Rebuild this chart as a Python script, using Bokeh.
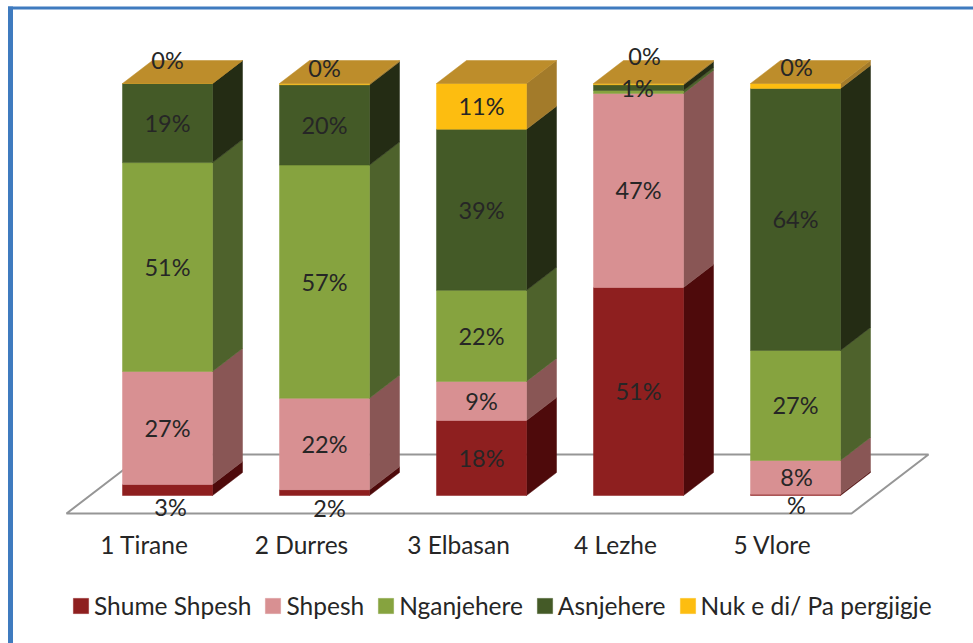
from bokeh.plotting import figure
from bokeh.models import (ColumnDataSource, Range1d, LinearAxis, FixedTicker, Legend, LegendItem,
                          BoxAnnotation)
from bokeh.core.properties import value
from bokeh.embed import file_html
from bokeh.resources import INLINE

categories = ["1 Tirane", "2 Durres", "3 Elbasan", "4 Lezhe", "5 Vlore"]
series_names = ["Shume Shpesh", "Shpesh", "Nganjehere", "Asnjehere", "Nuk e di/ Pa pergjigje"]
shume_shpesh = [2.7, 1.4, 18.2, 50.5, 0.3]
shpesh = [27.4, 22.2, 9.5, 47.1, 8.2]
nganjehere = [50.7, 56.6, 22.1, 0.7, 26.7]
asnjehere = [19.2, 19.5, 39.1, 1.4, 63.6]
nuk_e_di = [0.0, 0.3, 11.1, 0.3, 1.2]
series_values = [shume_shpesh, shpesh, nganjehere, asnjehere, nuk_e_di]

label_shume = ["3%", "2%", "18%", "51%", "%"]
label_shpesh = ["27%", "22%", "9%", "47%", "8%"]
label_ngan = ["51%", "57%", "22%", None, "27%"]
label_asn = ["19%", "20%", "39%", "1%", "64%"]
label_nuk = ["0%", "0%", "11%", "0%", "0%"]
series_labels = [label_shume, label_shpesh, label_ngan, label_asn, label_nuk]

front_colors = ["#8E1F1F", "#D89092", "#86A33F", "#445A27", "#FDBD10"]
side_colors = ["#4E0A0B", "#895655", "#4E622C", "#242C14", "#A37B2A"]
cap_color = "#BD8D2B"
text_color = "#262626"
font = value("Lato")

W, H = 973, 643
PX_X, PX_Y = 157.0, 4.12
BAR_LEFT, BAR_W = -22 / PX_X, 90 / PX_X
DEPTH_X, DEPTH_Y = 30 / PX_X, 23 / PX_Y
LABEL_X = BAR_LEFT + BAR_W / 2

nudges = {(0, 0): (3, -17), (0, 1): (5, -15), (0, 4): (1, -10),
          (1, 4): (1, 0),
          (3, 3): (-1, 0),
          (4, 0): (0, 24), (4, 1): (0, 16), (4, 2): (0, 0), (4, 3): (6, 28), (4, 4): (1, 19)}

p = figure(width=W, height=H, output_backend="svg", toolbar_location=None,
           x_range=Range1d(-144 / PX_X, 829 / PX_X), y_range=Range1d(-148 / PX_Y, 495 / PX_Y),
           x_axis_type=None, y_axis_type=None, min_border_left=0, min_border_right=0,
           min_border_top=0, min_border_bottom=0)
p.grid.visible = False
p.outline_line_color = None
p.background_fill_color = "white"
p.border_fill_color = "white"

fl_x0, fl_x1 = -78 / PX_X, 707 / PX_X
fl_y0, fl_y1 = -18 / PX_Y, 41 / PX_Y
fl_d = 77 / PX_X
p.patch([fl_x0, fl_x1, fl_x1 + fl_d, fl_x0 + fl_d], [fl_y0, fl_y0, fl_y1, fl_y1],
        fill_color=None, line_color="#969696", line_width=2)

legend_items = []
n = len(categories)
bottoms = [0.0] * n
txt_x, txt_y, txt = [], [], []
for s, vals in enumerate(series_values):
    tops = [b + v for b, v in zip(bottoms, vals)]
    lefts = [i + BAR_LEFT for i in range(n)]
    rights = [l + BAR_W for l in lefts]
    xs = [[r, r + DEPTH_X, r + DEPTH_X, r] for r in rights]
    ys = [[b, b + DEPTH_Y, t + DEPTH_Y, t] for b, t in zip(bottoms, tops)]
    p.patches(xs, ys, fill_color=side_colors[s], line_color=side_colors[s], line_width=0.5)
    src = ColumnDataSource(dict(left=lefts, right=rights, bottom=bottoms, top=tops))
    r = p.quad(left="left", right="right", bottom="bottom", top="top", source=src,
               fill_color=front_colors[s], line_color=front_colors[s], line_width=0.5)
    legend_items.append(LegendItem(label=series_names[s], renderers=[r]))
    for i in range(n):
        lab = series_labels[s][i]
        if lab is None:
            continue
        dx, dy = nudges.get((s, i), (0, 0))
        txt_x.append(i + LABEL_X + dx / PX_X)
        txt_y.append((bottoms[i] + tops[i]) / 2 + dy / PX_Y)
        txt.append(lab)
    bottoms = tops

cx = [[i + BAR_LEFT, i + BAR_LEFT + BAR_W, i + BAR_LEFT + BAR_W + DEPTH_X, i + BAR_LEFT + DEPTH_X] for i in range(n)]
cy = [[b, b, b + DEPTH_Y, b + DEPTH_Y] for b in bottoms]
p.patches(cx, cy, fill_color=cap_color, line_color=cap_color, line_width=0.5)

p.text(txt_x, txt_y, txt, text_font=font, text_font_size="23.5px", text_color=text_color,
       text_align="center", text_baseline="middle")

axis = LinearAxis(ticker=FixedTicker(ticks=list(range(n))),
                  major_label_overrides={i: c for i, c in enumerate(categories)},
                  axis_line_color=None, major_tick_line_color=None, minor_tick_line_color=None,
                  major_label_text_font="Lato", major_label_text_font_size="24.5px",
                  major_label_text_color=text_color, major_label_standoff=3,
                  fixed_location=-25 / PX_Y)
p.add_layout(axis, "below")

legend = Legend(items=legend_items, orientation="horizontal", location=(71, 23),
                border_line_color=None, background_fill_color=None,
                label_text_font="Lato", label_text_font_size="24.5px", label_text_color=text_color,
                glyph_width=19, glyph_height=19, label_standoff=4, spacing=12, padding=0, margin=0)
p.add_layout(legend, "center")

for l, rt, t, b in [(7.5, 12.5, 6, H), (7.5, W, 6, 9)]:
    p.add_layout(BoxAnnotation(left=l, right=rt, top=t, bottom=b, left_units="canvas", right_units="canvas",
                               top_units="canvas", bottom_units="canvas", fill_color="#3F7BBF", fill_alpha=1,
                               line_color=None, level="overlay"))

open("out.html", "w").write(file_html(p, INLINE))
